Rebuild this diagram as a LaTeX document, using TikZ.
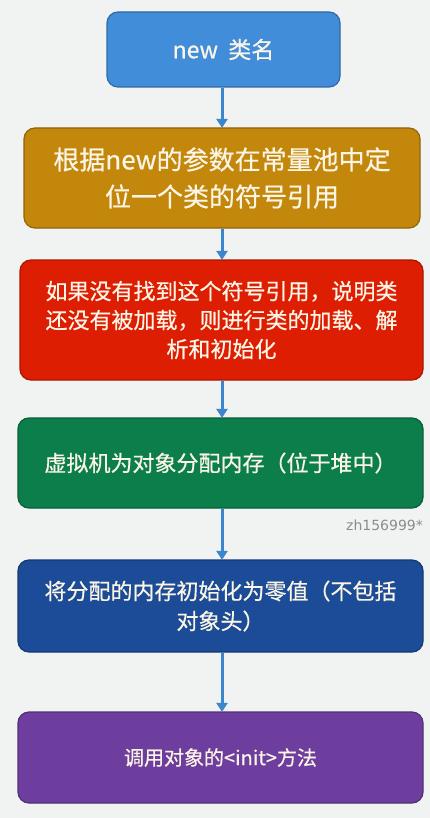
\documentclass[tikz,border=0pt]{standalone}
\usepackage{fontspec}
\setmainfont{Noto Sans CJK SC}[FakeBold=0.6]
\newfontfamily\wmfont{DejaVu Sans}
\usetikzlibrary{arrows.meta}
\definecolor{bgcol}{HTML}{F1F2F2}
\definecolor{cblue}{HTML}{418DD9}
\definecolor{cgold}{HTML}{C2870B}
\definecolor{cred}{HTML}{DD1E02}
\definecolor{cgreen}{HTML}{0B7E4B}
\definecolor{cnavy}{HTML}{1C4C98}
\definecolor{cpurple}{HTML}{6E3E9E}
\definecolor{ctext}{HTML}{FBF5E6}
\definecolor{carrow}{HTML}{3D86CE}
\tikzset{
  x=1pt, y=-1pt,
  flowbox/.style={draw=#1!75!black, line width=1.2pt, fill=#1, rounded corners=11pt,
    text=ctext, align=center, inner sep=0pt},
  flowarrow/.style={draw=carrow, line width=3pt,
    -{Triangle[length=9pt,width=11pt]}, shorten >=-0.5pt}
}
\begin{document}
\begin{tikzpicture}
\fill[bgcol] (0,0) rectangle (430,818);
\useasboundingbox (0,0) rectangle (430,818);

\node[flowbox=cblue, minimum width=233pt, minimum height=75pt,
  font=\fontsize{23}{28}\selectfont] (n1) at (223.5,49.5) {new\ \ 类名};

\node[flowbox=cgold, minimum width=396pt, minimum height=100pt,
  font=\fontsize{26}{37}\selectfont] (n2) at (222,178)
  {根据new的参数在常量池中定\\位一个类的符号引用};

\node[flowbox=cred, minimum width=403pt, minimum height=120pt,
  font=\fontsize{22}{29}\selectfont] (n3) at (221.5,320)
  {如果没有找到这个符号引用，说明类\\还没有被加载，则进行类的加载、解\\析和初始化};

\node[flowbox=cgreen, minimum width=405pt, minimum height=90pt,
  font=\fontsize{22}{29}\selectfont] (n4) at (220.5,463)
  {虚拟机为对象分配内存（位于堆中）};

\node[flowbox=cnavy, minimum width=405pt, minimum height=92pt,
  font=\fontsize{22}{30}\selectfont] (n5) at (220.5,606)
  {将分配的内存初始化为零值（不包括\\对象头）};

\node[flowbox=cpurple, minimum width=405pt, minimum height=91pt,
  font=\fontsize{20}{28}\selectfont] (n6) at (220.5,757.5)
  {调用对象的<init>方法};

\coordinate (a1) at (222,0);
\draw[flowarrow] (n1.south -| a1) -- (n2.north -| a1);
\draw[flowarrow] (n2.south -| a1) -- (n3.north -| a1);
\draw[flowarrow] (n3.south -| a1) -- (n4.north -| a1);
\draw[flowarrow] (n4.south -| a1) -- (n5.north -| a1);
\draw[flowarrow] (n5.south -| a1) -- (n6.north -| a1);

\node[anchor=west, text=black!45, font=\wmfont\fontsize{14}{16}\selectfont, inner sep=0pt]
  (wm) at (346,525) {zh156999*};
\end{tikzpicture}
\end{document}
